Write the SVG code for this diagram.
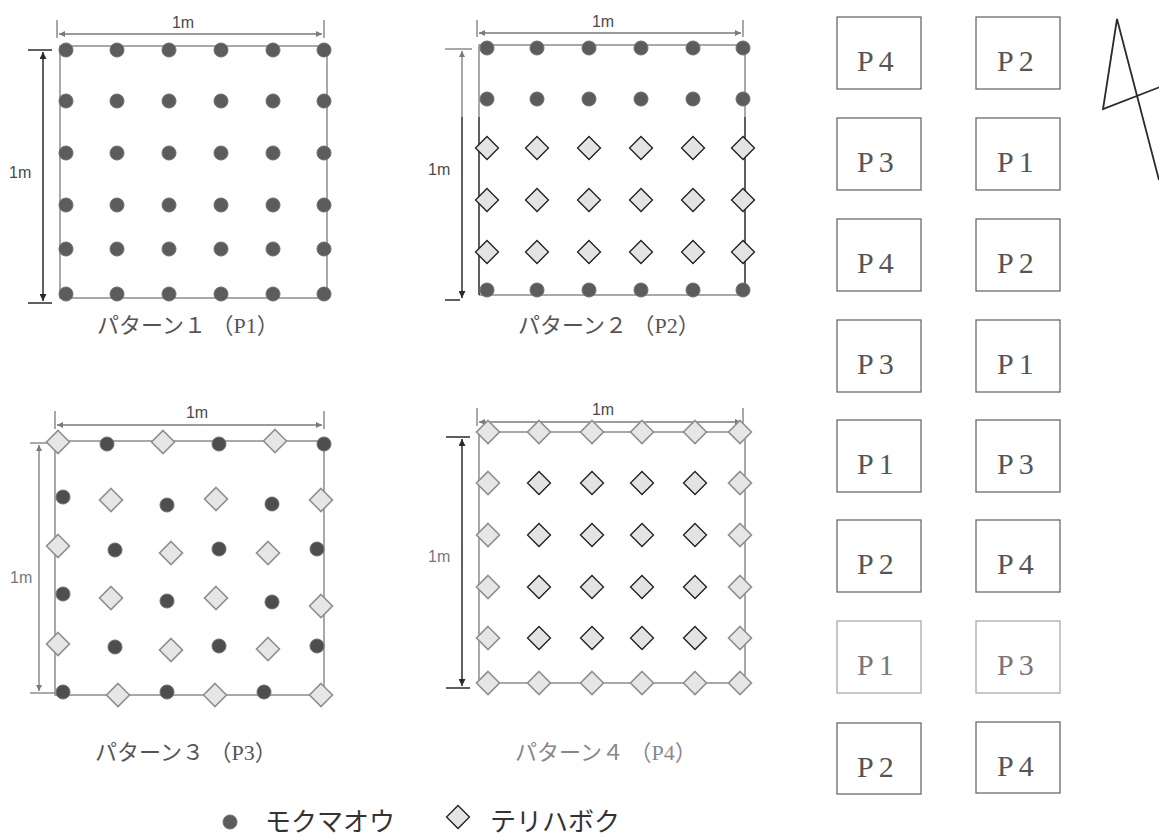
<svg xmlns="http://www.w3.org/2000/svg" xmlns:xlink="http://www.w3.org/1999/xlink" width="1159" height="836" viewBox="0 0 1159 836">
<style>
.frame{fill:none;stroke:#8c8c8c;stroke-width:1.5}
.frk{fill:none;stroke:#2a2a2a;stroke-width:1.5}
.dot{fill:#5c5c5c;stroke:#6e6e6e;stroke-width:1}
.dk{fill:#e3e3e3;stroke:#1e1e1e;stroke-width:1.3}
.dg{fill:#e6e6e6;stroke:#8e8e8e;stroke-width:1.6}
.dimg{stroke:#7a7a7a;stroke-width:1.3;fill:none}
.dimk{stroke:#2a2a2a;stroke-width:1.5;fill:none}
.lbl{font-family:"Liberation Sans",Arial,sans-serif;font-size:16px;fill:#4a4a4a}
.cap{font-family:"Liberation Serif","Noto Sans CJK JP",serif;font-size:22px;fill:#555}
.box{fill:#fff;stroke:#6a6a6a;stroke-width:1.3}
.bt{font-family:"Liberation Serif","Times New Roman",serif;font-size:30px;fill:#555;letter-spacing:5px}
.leg{font-family:"Noto Sans CJK JP",sans-serif;font-size:26px;fill:#333}
</style>
<defs>
<path id="dm" d="M0,-11.5 L11.5,0 L0,11.5 L-11.5,0 Z"/>
<marker id="ag" viewBox="0 0 10 10" refX="10" refY="5" markerWidth="7" markerHeight="6" markerUnits="userSpaceOnUse" orient="auto-start-reverse"><path d="M0,0 L10,5 L0,10 Z" fill="#7a7a7a"/></marker>
<marker id="ak" viewBox="0 0 10 10" refX="10" refY="5" markerWidth="7" markerHeight="7" markerUnits="userSpaceOnUse" orient="auto-start-reverse"><path d="M0,0 L10,5 L0,10 Z" fill="#2a2a2a"/></marker>
</defs>
<rect width="1159" height="836" fill="#fff"/>

<g id="connectors">
<!-- P1 dimensions -->
<line class="dimg" x1="57" y1="20" x2="57" y2="38"/>
<line class="dimg" x1="324" y1="20" x2="324" y2="38"/>
<line class="dimg" x1="59" y1="34" x2="322" y2="34" marker-start="url(#ag)" marker-end="url(#ag)"/>
<line class="dimk" x1="28" y1="50" x2="52" y2="50"/>
<line class="dimk" x1="28" y1="303" x2="52" y2="303"/>
<line class="dimk" x1="43" y1="52" x2="43" y2="301" marker-start="url(#ak)" marker-end="url(#ak)"/>
<!-- P2 dimensions -->
<line class="dimg" x1="477" y1="20" x2="477" y2="37"/>
<line class="dimg" x1="743" y1="20" x2="743" y2="37"/>
<line class="dimg" x1="479" y1="33" x2="741" y2="33" marker-start="url(#ag)" marker-end="url(#ag)"/>
<line class="dimg" x1="445" y1="49" x2="472" y2="49"/>
<line class="dimk" x1="445" y1="300" x2="460" y2="300"/>
<line class="dimg" x1="462" y1="51" x2="462" y2="117" marker-start="url(#ag)"/>
<line class="dimk" x1="462" y1="117" x2="462" y2="298" marker-end="url(#ak)"/>
<!-- P3 dimensions -->
<line class="dimg" x1="55" y1="411" x2="55" y2="429"/>
<line class="dimg" x1="324" y1="411" x2="324" y2="429"/>
<line class="dimg" x1="57" y1="425" x2="322" y2="425" marker-start="url(#ag)" marker-end="url(#ag)"/>
<line class="dimg" x1="30" y1="443" x2="55" y2="443"/>
<line class="dimg" x1="30" y1="693" x2="55" y2="693"/>
<line class="dimg" x1="39" y1="445" x2="39" y2="691" marker-start="url(#ag)" marker-end="url(#ag)"/>
<!-- P4 dimensions -->
<line class="dimg" x1="477" y1="408" x2="477" y2="426"/>
<line class="dimg" x1="743" y1="408" x2="743" y2="426"/>
<line class="dimg" x1="479" y1="422" x2="741" y2="422" marker-start="url(#ag)" marker-end="url(#ag)"/>
<line class="dimk" x1="446" y1="437" x2="470" y2="437"/>
<line class="dimk" x1="446" y1="688" x2="470" y2="688"/>
<line class="dimk" x1="462" y1="439" x2="462" y2="686" marker-start="url(#ak)" marker-end="url(#ak)"/>
</g>

<g id="pattern1">
<rect class="frame" x="60" y="46" width="267" height="252"/>
<text class="lbl" x="183" y="28" text-anchor="middle">1m</text>
<text class="lbl" x="9" y="178">1m</text>
<g class="dot">
<circle cx="66" cy="50" r="7"/><circle cx="117" cy="50" r="7"/><circle cx="169" cy="50" r="7"/><circle cx="221" cy="50" r="7"/><circle cx="273" cy="50" r="7"/><circle cx="324" cy="50" r="7"/>
<circle cx="66" cy="101" r="7"/><circle cx="117" cy="101" r="7"/><circle cx="169" cy="101" r="7"/><circle cx="221" cy="101" r="7"/><circle cx="273" cy="101" r="7"/><circle cx="324" cy="101" r="7"/>
<circle cx="66" cy="153" r="7"/><circle cx="117" cy="153" r="7"/><circle cx="169" cy="153" r="7"/><circle cx="221" cy="153" r="7"/><circle cx="273" cy="153" r="7"/><circle cx="324" cy="153" r="7"/>
<circle cx="66" cy="205" r="7"/><circle cx="117" cy="205" r="7"/><circle cx="169" cy="205" r="7"/><circle cx="221" cy="205" r="7"/><circle cx="273" cy="205" r="7"/><circle cx="324" cy="205" r="7"/>
<circle cx="66" cy="249" r="7"/><circle cx="117" cy="249" r="7"/><circle cx="169" cy="249" r="7"/><circle cx="221" cy="249" r="7"/><circle cx="273" cy="249" r="7"/><circle cx="324" cy="249" r="7"/>
<circle cx="66" cy="294" r="7"/><circle cx="117" cy="294" r="7"/><circle cx="169" cy="294" r="7"/><circle cx="221" cy="294" r="7"/><circle cx="273" cy="294" r="7"/><circle cx="324" cy="294" r="7"/>
</g>
<text class="cap" x="97" y="333">パターン１ （P1）</text>
</g>

<g id="pattern2">
<path class="frame" d="M479,117 L479,45 L745,45 L745,117 M479,295 L745,295"/>
<path class="frk" d="M479,117 L479,295 M745,117 L745,295"/>
<text class="lbl" x="603" y="27" text-anchor="middle">1m</text>
<text class="lbl" x="428" y="175">1m</text>
<g class="dot">
<circle cx="487" cy="48" r="7"/><circle cx="537" cy="48" r="7"/><circle cx="589" cy="48" r="7"/><circle cx="641" cy="48" r="7"/><circle cx="693" cy="48" r="7"/><circle cx="743" cy="48" r="7"/>
<circle cx="487" cy="99" r="7"/><circle cx="537" cy="99" r="7"/><circle cx="589" cy="99" r="7"/><circle cx="641" cy="99" r="7"/><circle cx="693" cy="99" r="7"/><circle cx="743" cy="99" r="7"/>
<circle cx="487" cy="290" r="7"/><circle cx="537" cy="290" r="7"/><circle cx="589" cy="290" r="7"/><circle cx="641" cy="290" r="7"/><circle cx="693" cy="290" r="7"/><circle cx="743" cy="290" r="7"/>
</g>
<g class="dk">
<use href="#dm" x="487" y="148"/><use href="#dm" x="537" y="148"/><use href="#dm" x="589" y="148"/><use href="#dm" x="641" y="148"/><use href="#dm" x="693" y="148"/><use href="#dm" x="743" y="148"/>
<use href="#dm" x="487" y="200"/><use href="#dm" x="537" y="200"/><use href="#dm" x="589" y="200"/><use href="#dm" x="641" y="200"/><use href="#dm" x="693" y="200"/><use href="#dm" x="743" y="200"/>
<use href="#dm" x="487" y="252"/><use href="#dm" x="537" y="252"/><use href="#dm" x="589" y="252"/><use href="#dm" x="641" y="252"/><use href="#dm" x="693" y="252"/><use href="#dm" x="743" y="252"/>
</g>
<text class="cap" x="518" y="333">パターン２ （P2）</text>
</g>

<g id="pattern3">
<rect class="frame" x="55" y="441" width="269" height="254"/>
<text class="lbl" x="197" y="418" text-anchor="middle">1m</text>
<text class="lbl" x="10" y="583" style="fill:#777">1m</text>
<g class="dot" style="fill:#4e4e4e">
<circle cx="107" cy="444" r="7"/><circle cx="219" cy="444" r="7"/><circle cx="324" cy="444" r="7"/>
<circle cx="63" cy="497" r="7"/><circle cx="167" cy="505" r="7"/><circle cx="272" cy="504" r="7"/>
<circle cx="115" cy="550" r="7"/><circle cx="219" cy="549" r="7"/><circle cx="317" cy="549" r="7"/>
<circle cx="63" cy="594" r="7"/><circle cx="167" cy="601" r="7"/><circle cx="272" cy="602" r="7"/>
<circle cx="115" cy="647" r="7"/><circle cx="219" cy="646" r="7"/><circle cx="317" cy="646" r="7"/>
<circle cx="63" cy="692" r="7"/><circle cx="167" cy="692" r="7"/><circle cx="264" cy="692" r="7"/>
</g>
<g class="dg">
<use href="#dm" x="58" y="442"/><use href="#dm" x="163" y="442"/><use href="#dm" x="275" y="441"/>
<use href="#dm" x="111" y="500"/><use href="#dm" x="216" y="499"/><use href="#dm" x="321" y="500"/>
<use href="#dm" x="58" y="546"/><use href="#dm" x="171" y="553"/><use href="#dm" x="268" y="553"/>
<use href="#dm" x="111" y="598"/><use href="#dm" x="216" y="598"/><use href="#dm" x="321" y="606"/>
<use href="#dm" x="58" y="644"/><use href="#dm" x="171" y="650"/><use href="#dm" x="268" y="649"/>
<use href="#dm" x="118" y="695"/><use href="#dm" x="215" y="695"/><use href="#dm" x="321" y="695"/>
</g>
<text class="cap" x="95" y="760">パターン３ （P3）</text>
</g>

<g id="pattern4">
<rect class="frame" x="479" y="432" width="266" height="251"/>
<text class="lbl" x="603" y="415" text-anchor="middle">1m</text>
<text class="lbl" x="428" y="562" style="fill:#777">1m</text>
<g class="dg">
<use href="#dm" x="488" y="432"/><use href="#dm" x="539" y="432"/><use href="#dm" x="592" y="432"/><use href="#dm" x="642" y="432"/><use href="#dm" x="695" y="432"/><use href="#dm" x="740" y="432"/>
<use href="#dm" x="488" y="483"/><use href="#dm" x="740" y="483"/>
<use href="#dm" x="488" y="535"/><use href="#dm" x="740" y="535"/>
<use href="#dm" x="488" y="587"/><use href="#dm" x="740" y="587"/>
<use href="#dm" x="488" y="638"/><use href="#dm" x="740" y="638"/>
<use href="#dm" x="488" y="683"/><use href="#dm" x="539" y="683"/><use href="#dm" x="592" y="683"/><use href="#dm" x="642" y="683"/><use href="#dm" x="695" y="683"/><use href="#dm" x="740" y="683"/>
</g>
<g class="dk">
<use href="#dm" x="539" y="483"/><use href="#dm" x="592" y="483"/><use href="#dm" x="642" y="483"/><use href="#dm" x="695" y="483"/>
<use href="#dm" x="539" y="535"/><use href="#dm" x="592" y="535"/><use href="#dm" x="642" y="535"/><use href="#dm" x="695" y="535"/>
<use href="#dm" x="539" y="587"/><use href="#dm" x="592" y="587"/><use href="#dm" x="642" y="587"/><use href="#dm" x="695" y="587"/>
<use href="#dm" x="539" y="638"/><use href="#dm" x="592" y="638"/><use href="#dm" x="642" y="638"/><use href="#dm" x="695" y="638"/>
</g>
<text class="cap" x="515" y="760" style="fill:#888">パターン４ （P4）</text>
</g>

<g id="plots">
<g id="plot-r1c1"><rect class="box" x="837" y="17" width="84" height="72"/><text class="bt" x="857" y="71">P4</text></g>
<g id="plot-r1c2"><rect class="box" x="976" y="17" width="84" height="72"/><text class="bt" x="997" y="71">P2</text></g>
<g id="plot-r2c1"><rect class="box" x="837" y="118" width="84" height="72"/><text class="bt" x="857" y="172">P3</text></g>
<g id="plot-r2c2"><rect class="box" x="976" y="118" width="84" height="72"/><text class="bt" x="997" y="172">P1</text></g>
<g id="plot-r3c1"><rect class="box" x="837" y="219" width="84" height="72"/><text class="bt" x="857" y="273">P4</text></g>
<g id="plot-r3c2"><rect class="box" x="976" y="219" width="84" height="72"/><text class="bt" x="997" y="273">P2</text></g>
<g id="plot-r4c1"><rect class="box" x="837" y="320" width="84" height="72"/><text class="bt" x="857" y="374">P3</text></g>
<g id="plot-r4c2"><rect class="box" x="976" y="320" width="84" height="72"/><text class="bt" x="997" y="374">P1</text></g>
<g id="plot-r5c1"><rect class="box" x="837" y="420" width="84" height="72"/><text class="bt" x="857" y="474">P1</text></g>
<g id="plot-r5c2"><rect class="box" x="976" y="420" width="84" height="72"/><text class="bt" x="997" y="474">P3</text></g>
<g id="plot-r6c1"><rect class="box" x="837" y="520" width="84" height="72"/><text class="bt" x="857" y="574">P2</text></g>
<g id="plot-r6c2"><rect class="box" x="976" y="520" width="84" height="72"/><text class="bt" x="997" y="574">P4</text></g>
<g id="plot-r7c1"><rect class="box" x="837" y="621" width="84" height="72" style="stroke:#aaa"/><text class="bt" x="857" y="675" style="fill:#777">P1</text></g>
<g id="plot-r7c2"><rect class="box" x="976" y="621" width="84" height="72" style="stroke:#aaa"/><text class="bt" x="997" y="675" style="fill:#777">P3</text></g>
<g id="plot-r8c1"><rect class="box" x="837" y="723" width="84" height="71"/><text class="bt" x="857" y="777">P2</text></g>
<g id="plot-r8c2"><rect class="box" x="976" y="722" width="84" height="71"/><text class="bt" x="997" y="776">P4</text></g>
</g>

<g id="north">
<path d="M1159,180 L1117,19 L1103,109 L1160,87" fill="none" stroke="#2a2a2a" stroke-width="1.8" stroke-linejoin="miter"/>
</g>

<g id="legend">
<circle class="dot" cx="230" cy="822" r="7"/>
<text class="leg" x="265" y="831">モクマオウ</text>
<use class="dk" href="#dm" x="458" y="817"/>
<text class="leg" x="490" y="831">テリハボク</text>
</g>
</svg>
